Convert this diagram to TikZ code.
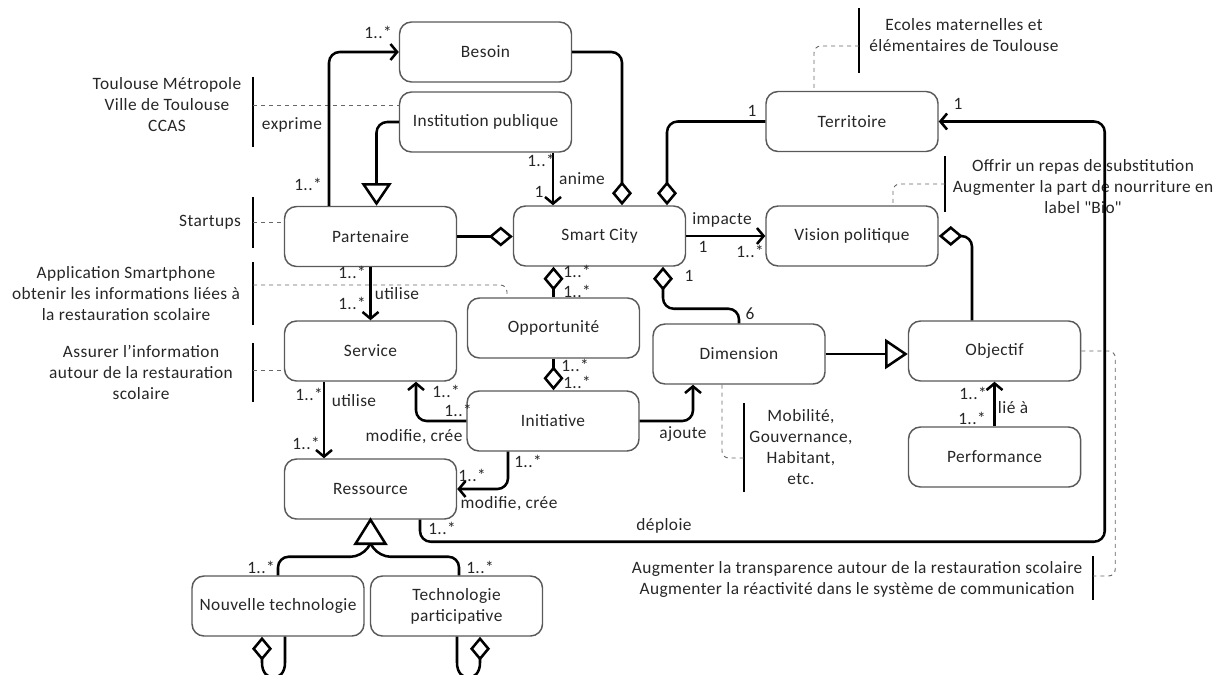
\documentclass[tikz,border=0pt]{standalone}
\usepackage{fontspec}
\setmainfont[LetterSpace=2.5]{Carlito}
\newfontfamily\plainfont[LetterSpace=2.5]{Carlito}
\usetikzlibrary{arrows.meta,calc}
\begin{document}
\begin{tikzpicture}[x=0.75pt,y=-0.75pt,
  every node/.style={font=\fontsize{13}{15.75}\selectfont, text=black!85},
  box/.style={draw=black!65, line width=1.1pt, rounded corners=9pt, minimum width=129pt, minimum height=45pt, inner sep=0pt, align=center, fill=white},
  conn/.style={line width=1.9pt, rounded corners=8pt, line join=round},
  loopc/.style={line width=1.9pt, line join=round},
  arr/.style={-{Straight Barb[length=5pt,width=12pt]}},
  dia/.style={-{Diamond[open,length=18pt,width=15pt,line join=miter]}},
  diastart/.style={{Diamond[open,length=18pt,width=15pt,line join=miter]}-},
  tri/.style={-{Triangle[open,length=17pt,width=22.5pt,line join=miter]}},
  bar/.style={line width=1.8pt},
  note/.style={draw=black!60, line width=0.7pt, dash pattern=on 3pt off 3pt, rounded corners=5pt},
  txt/.style={align=center, inner sep=0pt},
  lbl/.style={inner sep=0pt}
]
\useasboundingbox (0,0) rectangle (1216,674);

% boxes
\node[box] (bes) at (485.5,52) {Besoin};
\node[box] (inst) at (485.5,122) {Institution publique};
\node[box] (part) at (370.5,236.5) {Partenaire};
\node[box] (sc) at (599.5,236) {Smart City};
\node[box] (ter) at (852,121.5) {Territoire};
\node[box] (vis) at (852,236) {Vision politique};
\node[box] (serv) at (370.5,351) {Service};
\node[box] (opp) at (553.5,328) {Opportunité};
\node[box] (dim) at (739,354) {Dimension};
\node[box] (obj) at (994.5,351) {Objectif};
\node[box] (perf) at (994.5,457) {Performance};
\node[box] (ini) at (553,421) {Initiative};
\node[box] (res) at (370.5,489) {Ressource};
\node[box] (nt) at (278,606) {Nouvelle technologie};
\node[box] (tp) at (456.5,606) {Technologie\\participative};

% notes
\node[txt] (n1) at (167,105) {Toulouse Métropole\\Ville de Toulouse\\CCAS};
\coordinate (b1) at (253,105);
\draw[bar] ($(b1)+(0,-28)$) -- ($(b1)+(0,42)$);
\draw[note] (b1) -- (b1 -| inst.west);

\node[txt] (n2) at (210,222) {Startups};
\coordinate (b2) at (253,222);
\draw[bar] ($(b2)+(0,-25)$) -- ($(b2)+(0,26)$);
\draw[note] (b2) -- (b2 -| part.west);

\node[txt] (n3) at (126,294) {Application Smartphone\\obtenir les informations liées à\\la restauration scolaire};
\coordinate (b3) at (253,285);
\draw[bar] ($(b3)+(0,-23)$) -- ($(b3)+(0,40)$);
\draw[note] (b3) -| ($(opp.north)+(-46.5,0)$);

\node[txt] (n4) at (141,372) {Assurer l'information\\autour de la restauration\\scolaire};
\coordinate (b4) at (253,370);
\draw[bar] ($(b4)+(0,-27)$) -- ($(b4)+(0,32)$);
\draw[note] (b4) -- (b4 -| serv.west);

\node[txt] (n5) at (964,35) {Ecoles maternelles et\\élémentaires de Toulouse};
\coordinate (b5) at (859,46);
\draw[bar] ($(b5)+(0,-38)$) -- ($(b5)+(0,27)$);
\draw[note] (b5) -| ($(ter.north)+(-38,0)$);

\node[txt] (n6) at (1083,187) {Offrir un repas de substitution\\Augmenter la part de nourriture en\\label {\plainfont"}Bio{\plainfont"}};
\coordinate (b6) at (945,184);
\draw[bar] ($(b6)+(0,-28)$) -- ($(b6)+(0,28)$);
\draw[note] (b6) -| ($(vis.north)+(41,0)$);

\node[txt] (n7) at (801,447) {Mobilité,\\Gouvernance,\\Habitant,\\etc.};
\coordinate (b7) at (744,458);
\draw[bar] ($(b7)+(0,-55)$) -- ($(b7)+(0,34)$);
\draw[note] ($(dim.south)+(-17,0)$) |- (b7);

\node[txt] (n8) at (857,579) {Augmenter la transparence autour de la restauration scolaire\\Augmenter la réactivité dans le système de communication};
\coordinate (b8) at (1093,576);
\draw[bar] ($(b8)+(0,-20)$) -- ($(b8)+(0,24)$);
\draw[note] (obj.east) -- ++(34,0) |- (b8);

% connectors
\draw[conn,arr] ($(part.north)+(-41.5,0)$) |- (bes.west);
\draw[conn,tri] (inst.west) -| ($(part.north)+(6,0)$);
\draw[conn,arr] ($(inst.south)+(67.5,0)$) -- ($(sc.north)+(-46.5,0)$);
\draw[conn,dia] (bes.east) -| ($(sc.north)+(22.5,0)$);
\draw[conn,dia] (ter.west) -| ($(sc.north)+(67.5,0)$);
\draw[conn,dia] (part.east) -- (part.east -| sc.west);
\draw[conn,arr] (sc.east) -- (vis.west);
\draw[conn,dia] ($(obj.north)+(-22.5,0)$) |- (vis.east);
\draw[conn,diastart] ($(sc.south)+(63.5,0)$) -- ($(sc.south)+(63.5,42)$) -| (dim.north);
\draw[conn,diastart] (opp.north |- sc.south) -- (opp.north);
\draw[conn,dia] (opp.south) -- (opp.south |- ini.north);
\draw[conn,arr] (part.south) -- (serv.north);
\draw[conn,arr] ($(serv.south)+(-46.5,0)$) -- ($(res.north)+(-46.5,0)$);
\draw[conn,arr] (ini.west) -| ($(serv.south)+(45.5,0)$);
\draw[conn,arr] ($(ini.south)+(-45,0)$) |- (res.east);
\draw[conn,arr] (ini.east) -| ($(dim.south)+(-46,0)$);
\draw[conn,arr] ($(res.south)+(49.5,0)$) -- ($(res.south)+(49.5,22)$) -| ($(ter.east)+(166,0)$) -- (ter.east);
\draw[conn,arr] (perf.north) -- (obj.south);
\draw[conn,tri] (dim.east) -- (dim.east -| obj.west);

% generalisation to Ressource
\draw[conn] (nt.north) |- ($(res.south)+(-9,37)$) -- ($(res.south)+(0,24)$);
\draw[conn] ($(tp.north)+(2.5,0)$) |- ($(res.south)+(9,37)$) -- ($(res.south)+(0,24)$);
\draw[line width=1.9pt, fill=white, line join=miter] (res.south) -- ($(res.south)+(-15,24)$) -- ($(res.south)+(15,24)$) -- cycle;

% bottom loops
\draw[loopc,diastart] ($(nt.south)+(-16,0)$) -- ($(nt.south)+(-16,26)$) .. controls ($(nt.south)+(-16,46)$) and ($(nt.south)+(7,46)$) .. ($(nt.south)+(7,26)$) -- ($(nt.south)+(7,0)$);
\draw[loopc,diastart] ($(tp.south)+(23.5,0)$) -- ($(tp.south)+(23.5,26)$) .. controls ($(tp.south)+(23.5,46)$) and ($(tp.south)+(0.5,46)$) .. ($(tp.south)+(0.5,26)$) -- ($(tp.south)+(0.5,0)$);

% labels
\node[lbl] (l1) at (378,32) {1..*};
\node[lbl] (l2) at (308,184) {1..*};
\node[lbl] (l3) at (292,125) {exprime};
\node[lbl] (l4) at (541,160) {1..*};
\node[lbl] (l5) at (582,179) {anime};
\node[lbl] (l6) at (539,192) {1};
\node[lbl] (l7) at (752,111) {1};
\node[lbl] (l8) at (722,220) {impacte};
\node[lbl] (l9) at (703,247) {1};
\node[lbl] (l10) at (750,251) {1..*};
\node[lbl] (l11) at (689,276) {1};
\node[lbl] (l12) at (750,314) {6};
\node[lbl] (l13) at (577,271) {1..*};
\node[lbl] (l14) at (577,291) {1..*};
\node[lbl] (l15) at (575,365) {1..*};
\node[lbl] (l16) at (577,382) {1..*};
\node[lbl] (l17) at (352,272) {1..*};
\node[lbl] (l18) at (397,294) {utilise};
\node[lbl] (l19) at (352,303) {1..*};
\node[lbl] (l20) at (309,394) {1..*};
\node[lbl] (l21) at (354,401) {utilise};
\node[lbl] (l22) at (306,443) {1..*};
\node[lbl] (l23) at (446,391) {1..*};
\node[lbl] (l24) at (458,410) {1..*};
\node[lbl] (l25) at (414,437) {modifie, crée};
\node[lbl] (l26) at (528,461) {1..*};
\node[lbl] (l27) at (472,475) {1..*};
\node[lbl] (l28) at (509,504) {modifie, crée};
\node[lbl] (l29) at (683,434) {ajoute};
\node[lbl] (l30) at (664,526) {déploie};
\node[lbl] (l31) at (442,528) {1..*};
\node[lbl] (l32) at (958,104) {1};
\node[lbl] (l33) at (973,393) {1..*};
\node[lbl] (l34) at (1013,408) {lié à};
\node[lbl] (l35) at (972,418) {1..*};
\node[lbl] (l36) at (261,567) {1..*};
\node[lbl] (l37) at (480,567) {1..*};
\end{tikzpicture}
\end{document}
